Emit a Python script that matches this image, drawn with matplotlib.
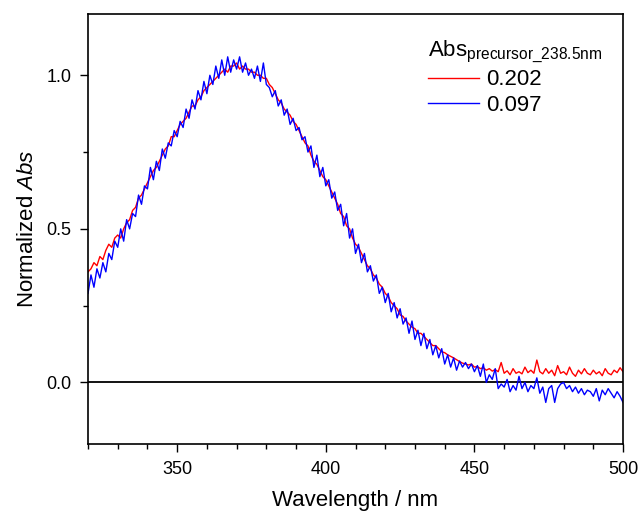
import matplotlib

matplotlib.use("Agg")
import matplotlib.pyplot as plt
import numpy as np
from matplotlib.ticker import MultipleLocator

plt.rcParams["font.family"] = ["Liberation Sans", "DejaVu Sans"]
plt.rcParams["mathtext.fontset"] = "custom"
plt.rcParams["mathtext.rm"] = "Liberation Sans"
plt.rcParams["mathtext.it"] = "Liberation Sans:italic"

# wavelength grid, 1 nm steps
wavelength = np.arange(320, 501, 1)

# normalized absorbance (Abs precursor = 0.202)
abs_0202 = [
    0.36, 0.37, 0.39, 0.38, 0.41, 0.40, 0.43, 0.45, 0.44, 0.47,
    0.48, 0.47, 0.50, 0.52, 0.53, 0.56, 0.57, 0.60, 0.61, 0.63,
    0.65, 0.67, 0.69, 0.70, 0.72, 0.74, 0.76, 0.77, 0.80, 0.80,
    0.82, 0.84, 0.85, 0.86, 0.88, 0.90, 0.90, 0.92, 0.93, 0.95,
    0.96, 0.97, 0.98, 0.99, 1.00, 1.01, 1.02, 1.01, 1.03, 1.03,
    1.04, 1.02, 1.03, 1.02, 1.02, 1.01, 1.01, 1.00, 1.00, 0.99,
    0.99, 0.97, 0.96, 0.94, 0.92, 0.91, 0.89, 0.88, 0.87, 0.85,
    0.84, 0.82, 0.80, 0.78, 0.77, 0.74, 0.72, 0.71, 0.69, 0.67,
    0.66, 0.64, 0.62, 0.60, 0.58, 0.55, 0.54, 0.51, 0.50, 0.47,
    0.45, 0.44, 0.42, 0.40, 0.38, 0.37, 0.35, 0.34, 0.32, 0.31,
    0.29, 0.28, 0.26, 0.25, 0.24, 0.22, 0.215, 0.20, 0.19, 0.18,
    0.175, 0.16, 0.16, 0.15, 0.14, 0.13, 0.12, 0.12, 0.11, 0.10,
    0.097, 0.09, 0.085, 0.08, 0.074, 0.068, 0.063, 0.06, 0.057, 0.06,
    0.05, 0.052, 0.045, 0.048, 0.04, 0.045, 0.037, 0.042, 0.035, 0.065,
    0.03, 0.038, 0.025, 0.045, 0.03, 0.035, 0.028, 0.05, 0.032, 0.04,
    0.03, 0.073, 0.035, 0.028, 0.045, 0.03, 0.04, 0.022, 0.055, 0.03,
    0.035, 0.025, 0.05, 0.03, 0.02, 0.04, 0.028, 0.045, 0.03, 0.025,
    0.04, 0.028, 0.035, 0.022, 0.045, 0.03, 0.025, 0.04, 0.032, 0.048,
    0.035,
]

# normalized absorbance (Abs precursor = 0.097), noisier
abs_0097 = [
    0.29, 0.35, 0.31, 0.37, 0.34, 0.39, 0.36, 0.42, 0.40, 0.46,
    0.44, 0.50, 0.46, 0.53, 0.50, 0.55, 0.54, 0.61, 0.58, 0.64,
    0.63, 0.70, 0.66, 0.72, 0.69, 0.76, 0.73, 0.78, 0.77, 0.82,
    0.80, 0.85, 0.83, 0.89, 0.86, 0.92, 0.89, 0.95, 0.92, 0.98,
    0.94, 1.00, 0.97, 1.03, 0.99, 1.05, 1.00, 1.06, 1.01, 1.05,
    1.02, 1.06, 1.01, 1.04, 1.00, 1.02, 0.99, 1.03, 0.98, 1.04,
    0.97, 0.96, 0.93, 0.95, 0.90, 0.92, 0.87, 0.89, 0.84, 0.86,
    0.82, 0.83, 0.79, 0.80, 0.75, 0.77, 0.70, 0.74, 0.67, 0.70,
    0.64, 0.66, 0.60, 0.62, 0.56, 0.58, 0.51, 0.55, 0.47, 0.50,
    0.42, 0.45, 0.39, 0.42, 0.36, 0.38, 0.33, 0.35, 0.29, 0.31,
    0.26, 0.29, 0.23, 0.26, 0.21, 0.24, 0.19, 0.21, 0.16, 0.20,
    0.14, 0.17, 0.12, 0.16, 0.11, 0.14, 0.09, 0.12, 0.08, 0.11,
    0.06, 0.09, 0.05, 0.08, 0.04, 0.07, 0.05, 0.065, 0.045, 0.06,
    0.035, 0.055, 0.02, 0.06, 0.00, 0.025, 0.01, 0.045, -0.02, -0.005,
    -0.015, 0.01, -0.03, -0.01, -0.025, 0.02, -0.02, 0.0, -0.03, -0.01,
    -0.02, 0.015, -0.035, -0.015, -0.065, -0.02, -0.01, -0.065, -0.02, -0.005,
    0.0, -0.02, -0.01, -0.03, -0.015, -0.035, -0.02, -0.04, -0.025, -0.03,
    -0.045, -0.02, -0.06, -0.025, -0.04, -0.02, -0.035, -0.05, -0.03, -0.045,
    -0.065,
]

labels = ["0.202", "0.097"]
colors = ["#ff0000", "#0000ff"]

fig = plt.figure(figsize=(6.4, 5.12), dpi=100)
ax = fig.add_axes([0.1375, 0.133, 0.836, 0.84])

for ys, lab, col in zip([abs_0202, abs_0097], labels, colors):
    ax.plot(wavelength, ys, color=col, lw=1.0, label=lab)

ax.axhline(0, color="black", lw=1.3, zorder=1)

ax.set_xlim(320, 500)
ax.set_ylim(-0.2, 1.2)
ax.xaxis.set_major_locator(MultipleLocator(50))
ax.xaxis.set_minor_locator(MultipleLocator(10))
ax.yaxis.set_major_locator(MultipleLocator(0.5))
ax.yaxis.set_minor_locator(MultipleLocator(0.25))
ax.tick_params(which="major", direction="out", length=6, width=1.0, labelsize=13, pad=6)
ax.tick_params(which="minor", direction="out", length=3.5, width=1.0)
ax.tick_params(top=False, right=False)
for s in ax.spines.values():
    s.set_linewidth(1.2)

ax.set_xlabel("Wavelength / nm", fontsize=16, labelpad=9)
ax.set_ylabel("Normalized $\\it{Abs}$", fontsize=16, labelpad=6)

leg = ax.legend(
    title="Abs$_{\\mathrm{precursor\\_238.5nm}}$",
    loc="upper left",
    bbox_to_anchor=(0.61, 0.975),
    frameon=False,
    fontsize=16,
    title_fontsize=16,
    handlelength=2.3,
    handletextpad=0.3,
    labelspacing=0.2,
    borderpad=0.63,
    alignment="left",
    borderaxespad=0,
)

fig.savefig("out.png", dpi=100)
